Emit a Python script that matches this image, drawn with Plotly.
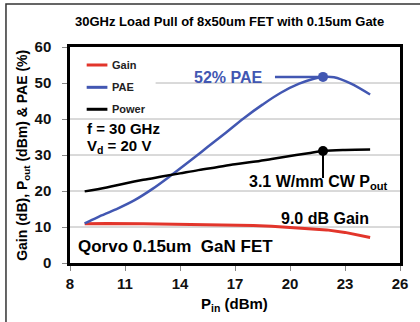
import plotly.graph_objects as go

# ---- data ----
pin_pae = [8.8, 9.5, 10.5, 11.5, 12.5, 13.5, 14.5, 15.5, 16.5, 17.5, 18.5, 19.5, 20.5, 21.3, 21.8, 22.4, 23.3, 24.37]
pae = [11.0, 12.7, 14.9, 17.4, 20.6, 24.3, 28.2, 32.2, 36.2, 40.3, 44.0, 47.3, 49.8, 51.2, 51.7, 51.6, 49.9, 46.8]

pin_pout = [8.8, 10, 11, 12, 13, 14, 15, 16, 17, 18, 19, 20, 21, 21.8, 23, 24.37]
pout = [19.9, 21.0, 22.1, 23.1, 24.0, 24.9, 25.8, 26.6, 27.4, 28.1, 28.9, 29.7, 30.5, 31.1, 31.4, 31.5]

pin_gain = [8.8, 10, 12, 14, 16, 18, 19, 20, 21, 22, 23, 24.37]
gain = [10.9, 11.0, 10.9, 10.8, 10.7, 10.4, 10.2, 9.9, 9.6, 9.2, 8.5, 7.1]

peak_pin = 21.8
peak_pae = 51.7
peak_pout = 31.1

x_ticks = [8, 11, 14, 17, 20, 23, 26]
y_ticks = [0, 10, 20, 30, 40, 50, 60]
grid_vals = [10, 20, 30, 40, 50]

legend_names = ["Gain", "PAE", "Power"]

RED = "#e2352b"
BLUE = "#4257b2"
BLACK = "#000000"
FONT = "Arial, Liberation Sans, sans-serif"

fig = go.Figure()
fig.add_trace(go.Scatter(x=pin_gain, y=gain, mode="lines", line=dict(color=RED, width=3), showlegend=False))
fig.add_trace(go.Scatter(x=pin_pae, y=pae, mode="lines", line=dict(color=BLUE, width=2.5, shape="spline"), showlegend=False))
fig.add_trace(go.Scatter(x=pin_pout, y=pout, mode="lines", line=dict(color=BLACK, width=2.5, shape="spline"), showlegend=False))
fig.add_trace(go.Scatter(x=[peak_pin], y=[peak_pae], mode="markers", marker=dict(color=BLUE, size=10), showlegend=False))
fig.add_trace(go.Scatter(x=[peak_pin], y=[peak_pout], mode="markers", marker=dict(color=BLACK, size=10), showlegend=False))

shapes = []
# gridlines
for g in grid_vals:
    x0 = 12.67 if g == 50 else 8
    shapes.append(dict(type="line", xref="x", yref="y", x0=x0, x1=26, y0=g, y1=g,
                       line=dict(color="#b4b4b4", width=1), layer="below"))
# callout lines
shapes.append(dict(type="line", xref="x", yref="y", x0=19.18, x1=peak_pin, y0=peak_pae, y1=peak_pae,
                   line=dict(color=BLUE, width=2.5)))
shapes.append(dict(type="line", xref="x", yref="y", x0=peak_pin, x1=peak_pin, y0=23.6, y1=peak_pout,
                   line=dict(color=BLACK, width=2)))
# legend samples
leg_y = [55.0, 48.8, 42.7]
leg_col = [RED, BLUE, BLACK]
for yy, cc in zip(leg_y, leg_col):
    shapes.append(dict(type="line", xref="x", yref="y", x0=8.91, x1=10.04, y0=yy, y1=yy,
                       line=dict(color=cc, width=3)))
# outer frame
shapes.append(dict(type="rect", xref="paper", yref="paper", x0=-0.194, x1=1.08, y0=-0.35, y1=1.199,
                   line=dict(color="#333333", width=1.5), layer="below"))

annotations = []
for yy, nm in zip(leg_y, legend_names):
    annotations.append(dict(x=10.2, y=yy, xref="x", yref="y", text="<b>%s</b>" % nm, showarrow=False,
                            xanchor="left", yanchor="middle", font=dict(size=11, color="#222")))

def ann(x, y, text, size=16, color=BLACK, xanchor="left", xref="x", yref="y", **kw):
    annotations.append(dict(x=x, y=y, xref=xref, yref=yref, text=text, showarrow=False,
                            xanchor=xanchor, yanchor="middle", font=dict(size=size, color=color), **kw))

ann(8.81, 37.4, "<b>f = 30 GHz</b>", size=15)
ann(8.81, 32.3, "<b>V<sub>d</sub> = 20 V</b>", size=15)
ann(8.32, 4.6, "<b>Qorvo 0.15um  GaN FET</b>", size=17)
ann(18.64, 51.4, "<b>52% PAE</b>", size=16, color=BLUE, xanchor="right")
ann(17.67, 22.3, "<b>3.1 W/mm CW P<sub>out</sub></b>", size=16)
ann(24.44, 12.4, "<b>9.0 dB Gain</b>", size=16, xanchor="right")
ann(0.4836, 1.116, "<b>30GHz Load Pull of 8x50um FET with 0.15um Gate</b>", size=13, xanchor="center",
    xref="paper", yref="paper")
ann(0.4985, -0.194, "<b>P<sub>in</sub> (dBm)</b>", size=15, xanchor="center", xref="paper", yref="paper")
ann(-0.143, 0.5, "<b>Gain (dB), P<sub>out</sub> (dBm) & PAE (%)</b>", size=14, xanchor="center",
    xref="paper", yref="paper", textangle=-90)

fig.update_layout(
    width=420, height=322,
    margin=dict(l=70, r=15, t=47, b=59),
    paper_bgcolor="white", plot_bgcolor="white",
    font=dict(family=FONT, color=BLACK),
    shapes=shapes, annotations=annotations,
    showlegend=False,
)
fig.update_xaxes(range=[8, 26], tickvals=x_ticks, ticktext=["<b>%d</b>" % v for v in x_ticks],
                 showgrid=False, zeroline=False, showline=True, linecolor="black", linewidth=2.5, mirror=True,
                 ticks="outside", ticklen=5, tickcolor="#888", tickfont=dict(size=15, color="#111"))
fig.update_yaxes(range=[0, 60], tickvals=y_ticks, ticktext=["<b>%d</b>" % v for v in y_ticks],
                 showgrid=False, zeroline=False, showline=True, linecolor="black", linewidth=2.5, mirror=True,
                 ticks="outside", ticklen=5, tickcolor="#888", tickfont=dict(size=15, color="#111"),
                 ticklabelstandoff=8)

fig.write_html("out.html")
